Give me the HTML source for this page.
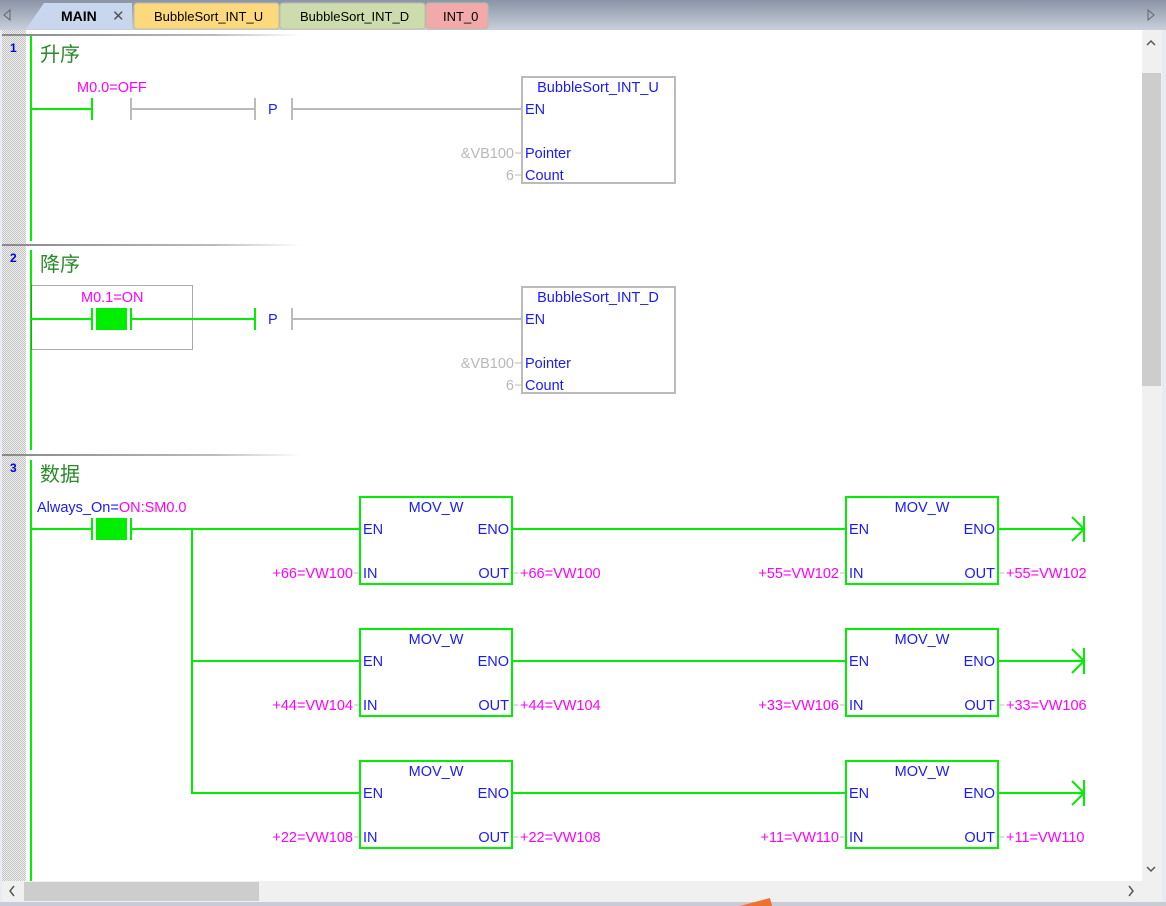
<!DOCTYPE html>
<html><head><meta charset="utf-8"><style>
html,body{margin:0;padding:0;width:1166px;height:906px;overflow:hidden;background:#e8ecf2;}
svg{display:block}
text{font-family:"Liberation Sans","Noto Sans CJK SC",sans-serif;}
</style></head><body>
<svg width="1166" height="906" viewBox="0 0 1166 906" xmlns="http://www.w3.org/2000/svg" font-size="14.5">
<defs>
<linearGradient id="tb" x1="0" y1="0" x2="0" y2="1"><stop offset="0" stop-color="#8a94a6"/><stop offset="1" stop-color="#c9d0dc"/></linearGradient>
<linearGradient id="sep" x1="0" y1="0" x2="1" y2="0"><stop offset="0" stop-color="#888"/><stop offset="0.7" stop-color="#bbb"/><stop offset="1" stop-color="#fff"/></linearGradient>
<pattern id="chk" width="2" height="2" patternUnits="userSpaceOnUse"><rect width="2" height="2" fill="#eee"/><rect width="1" height="1" fill="#c4c4c4"/><rect x="1" y="1" width="1" height="1" fill="#c4c4c4"/></pattern>
</defs>
<rect x="0" y="0" width="1166" height="30" fill="url(#tb)"/>
<polygon points="4,15 10,10 10,20" fill="none" stroke="#666"/>
<polygon points="1148,10 1154,15 1148,20" fill="none" stroke="#666"/>
<path d="M26,29 L44,3 L132,3 L132,29 Z" fill="#c8d6ee"/>
<text x="61" y="21" font-weight="bold" fill="#000" font-size="14">MAIN</text>
<text x="112" y="21" fill="#555" font-size="15">✕</text>
<rect x="134" y="3" width="145" height="26" rx="3" fill="#fcd97c" stroke="#bba"/>
<text x="154" y="21" fill="#000" font-size="13">BubbleSort_INT_U</text>
<rect x="280" y="3" width="145" height="26" rx="3" fill="#cddcad" stroke="#bba"/>
<text x="300" y="21" fill="#000" font-size="13">BubbleSort_INT_D</text>
<rect x="426" y="3" width="62" height="26" rx="3" fill="#f2a9a9" stroke="#bba"/>
<text x="443" y="21" fill="#000" font-size="13">INT_0</text>
<rect x="2" y="30" width="1160" height="872" fill="#f0f0f0"/>
<rect x="2" y="30" width="1140" height="851" fill="#fff"/>
<rect x="2" y="30" width="24" height="851" fill="url(#chk)"/>
<rect x="2" y="34" width="300" height="2" fill="url(#sep)"/>
<rect x="2" y="244" width="300" height="2" fill="url(#sep)"/>
<rect x="2" y="454" width="300" height="2" fill="url(#sep)"/>
<rect x="1142" y="30" width="20" height="851" fill="#f0f0f0"/>
<rect x="1142" y="73" width="19" height="313" fill="#cdcdcd"/>
<path d="M1147,45 L1151,41 L1155,45" fill="none" stroke="#555" stroke-width="1.5"/>
<path d="M1147,867 L1151,871 L1155,867" fill="none" stroke="#555" stroke-width="1.5"/>
<rect x="2" y="881" width="1160" height="20" fill="#f0f0f0"/>
<rect x="24" y="882" width="235" height="19" fill="#cdcdcd"/>
<path d="M14,886 L10,891 L14,896" fill="none" stroke="#555" stroke-width="1.5"/>
<path d="M1129,886 L1133,891 L1129,896" fill="none" stroke="#555" stroke-width="1.5"/>
<rect x="0" y="902" width="1166" height="4" fill="#c8ccd4"/>
<polygon points="740,906 770,898 772,906" fill="#f07030"/>
<rect x="30" y="36" width="2" height="205" fill="#00ee00"/>
<rect x="30" y="250" width="2" height="200" fill="#00ee00"/>
<rect x="30" y="460" width="2" height="421" fill="#00ee00"/>
<text x="10" y="52" fill="#0000e0" font-weight="bold" font-size="12">1</text>
<text x="10" y="262" fill="#0000e0" font-weight="bold" font-size="12">2</text>
<text x="10" y="472" fill="#0000e0" font-weight="bold" font-size="12">3</text>
<text x="40" y="61" fill="#2a8a2a" font-size="20">升序</text>
<text x="40" y="271" fill="#2a8a2a" font-size="20">降序</text>
<text x="40" y="481" fill="#2a8a2a" font-size="20">数据</text>

<text x="77" y="92" fill="#ff00ff">M0.0=OFF</text>
<line x1="31" y1="109" x2="92" y2="109" stroke="#00ee00" stroke-width="2"/>
<line x1="92" y1="98" x2="92" y2="120" stroke="#00ee00" stroke-width="2"/>
<line x1="131" y1="98" x2="131" y2="120" stroke="#bbb" stroke-width="2"/>
<line x1="131" y1="109" x2="255" y2="109" stroke="#bbb" stroke-width="2"/>
<line x1="255" y1="98" x2="255" y2="120" stroke="#bbb" stroke-width="2"/>
<text x="268" y="114" fill="#2020ff">P</text>
<line x1="292" y1="98" x2="292" y2="120" stroke="#bbb" stroke-width="2"/>
<line x1="292" y1="109" x2="522" y2="109" stroke="#bbb" stroke-width="2"/>
<rect x="522" y="77" width="153" height="106" fill="none" stroke="#bbb" stroke-width="2"/>
<text x="598" y="92" fill="#1a1aff" text-anchor="middle">BubbleSort_INT_U</text>
<text x="525" y="114" fill="#1a1aff">EN</text>
<text x="525" y="158" fill="#1a1aff">Pointer</text>
<text x="525" y="180" fill="#1a1aff">Count</text>
<text x="514" y="158" fill="#b8b8b8" text-anchor="end">&amp;VB100</text>
<text x="514" y="180" fill="#b8b8b8" text-anchor="end">6</text>
<line x1="515" y1="153" x2="521" y2="153" stroke="#bbb"/>
<line x1="515" y1="175" x2="521" y2="175" stroke="#bbb"/>

<rect x="31.5" y="285.5" width="161" height="64" fill="none" stroke="#555" stroke-dasharray="1,1"/>
<text x="81" y="302" fill="#ff00ff">M0.1=ON</text>
<line x1="31" y1="319" x2="92" y2="319" stroke="#00ee00" stroke-width="2"/>
<line x1="92" y1="308" x2="92" y2="330" stroke="#00ee00" stroke-width="2"/>
<rect x="96" y="308" width="31" height="22" fill="#00ee00"/>
<line x1="131" y1="308" x2="131" y2="330" stroke="#00ee00" stroke-width="2"/>
<line x1="131" y1="319" x2="255" y2="319" stroke="#00ee00" stroke-width="2"/>
<line x1="255" y1="308" x2="255" y2="330" stroke="#00ee00" stroke-width="2"/>
<text x="268" y="324" fill="#2020ff">P</text>
<line x1="292" y1="308" x2="292" y2="330" stroke="#bbb" stroke-width="2"/>
<line x1="292" y1="319" x2="522" y2="319" stroke="#bbb" stroke-width="2"/>
<rect x="522" y="287" width="153" height="106" fill="none" stroke="#bbb" stroke-width="2"/>
<text x="598" y="302" fill="#1a1aff" text-anchor="middle">BubbleSort_INT_D</text>
<text x="525" y="324" fill="#1a1aff">EN</text>
<text x="525" y="368" fill="#1a1aff">Pointer</text>
<text x="525" y="390" fill="#1a1aff">Count</text>
<text x="514" y="368" fill="#b8b8b8" text-anchor="end">&amp;VB100</text>
<text x="514" y="390" fill="#b8b8b8" text-anchor="end">6</text>
<line x1="515" y1="363" x2="521" y2="363" stroke="#bbb"/>
<line x1="515" y1="385" x2="521" y2="385" stroke="#bbb"/>

<text x="37" y="512" fill="#1a1aff">Always_On=<tspan fill="#ff00ff">ON:SM0.0</tspan></text>
<line x1="31" y1="529" x2="92" y2="529" stroke="#00ee00" stroke-width="2"/>
<line x1="92" y1="518" x2="92" y2="540" stroke="#00ee00" stroke-width="2"/>
<rect x="96" y="518" width="31" height="22" fill="#00ee00"/>
<line x1="131" y1="518" x2="131" y2="540" stroke="#00ee00" stroke-width="2"/>
<line x1="131" y1="529" x2="360" y2="529" stroke="#00ee00" stroke-width="2"/>
<line x1="192" y1="529" x2="192" y2="794" stroke="#00ee00" stroke-width="2"/>
<line x1="192" y1="661" x2="360" y2="661" stroke="#00ee00" stroke-width="2"/>
<line x1="192" y1="793" x2="360" y2="793" stroke="#00ee00" stroke-width="2"/>

<g id="row1">
<rect x="360" y="497" width="152" height="87" fill="none" stroke="#00ee00" stroke-width="2"/>
<text x="436" y="512" fill="#1a1aff" text-anchor="middle">MOV_W</text>
<text x="363" y="534" fill="#1a1aff">EN</text>
<text x="509" y="534" fill="#1a1aff" text-anchor="end">ENO</text>
<text x="363" y="578" fill="#1a1aff">IN</text>
<text x="509" y="578" fill="#1a1aff" text-anchor="end">OUT</text>
<line x1="512" y1="529" x2="846" y2="529" stroke="#00ee00" stroke-width="2"/>
<rect x="846" y="497" width="152" height="87" fill="none" stroke="#00ee00" stroke-width="2"/>
<text x="922" y="512" fill="#1a1aff" text-anchor="middle">MOV_W</text>
<text x="849" y="534" fill="#1a1aff">EN</text>
<text x="995" y="534" fill="#1a1aff" text-anchor="end">ENO</text>
<text x="849" y="578" fill="#1a1aff">IN</text>
<text x="995" y="578" fill="#1a1aff" text-anchor="end">OUT</text>
<line x1="998" y1="529" x2="1084" y2="529" stroke="#00ee00" stroke-width="2"/>
<path d="M1072,517 L1084,529 L1072,541 M1084,516 L1084,542" fill="none" stroke="#00ee00" stroke-width="2"/>
<line x1="354" y1="573" x2="359" y2="573" stroke="#bbb"/>
<line x1="513" y1="573" x2="518" y2="573" stroke="#bbb"/>
<line x1="840" y1="573" x2="845" y2="573" stroke="#bbb"/>
<line x1="999" y1="573" x2="1004" y2="573" stroke="#bbb"/>
</g>
<use href="#row1" y="132"/>
<use href="#row1" y="264"/>
<g fill="#ff00ff">
<text x="353" y="578" text-anchor="end">+66=VW100</text>
<text x="520" y="578">+66=VW100</text>
<text x="839" y="578" text-anchor="end">+55=VW102</text>
<text x="1006" y="578">+55=VW102</text>
<text x="353" y="710" text-anchor="end">+44=VW104</text>
<text x="520" y="710">+44=VW104</text>
<text x="839" y="710" text-anchor="end">+33=VW106</text>
<text x="1006" y="710">+33=VW106</text>
<text x="353" y="842" text-anchor="end">+22=VW108</text>
<text x="520" y="842">+22=VW108</text>
<text x="839" y="842" text-anchor="end">+11=VW110</text>
<text x="1006" y="842">+11=VW110</text>
</g>
</svg>
</body></html>
